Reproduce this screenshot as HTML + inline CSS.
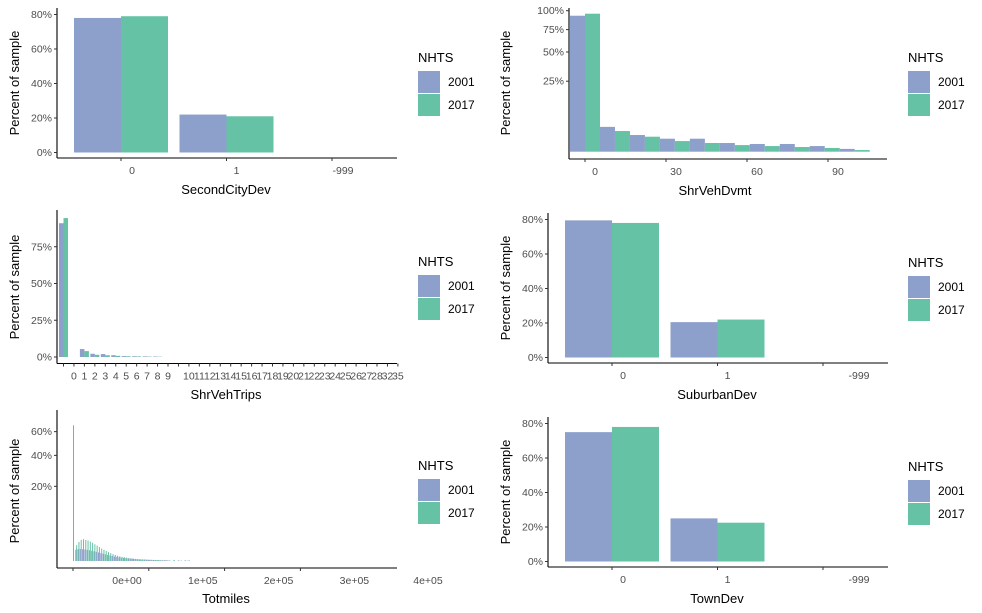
<!DOCTYPE html>
<html><head><meta charset="utf-8">
<style>
body{margin:0;background:#fff;}
svg{display:block;font-family:"Liberation Sans",Arial,sans-serif;}
.tk{font-size:10.5px;fill:#4d4d4d;}
.ti{font-size:13px;fill:#000;}
.lg{font-size:12px;fill:#000;}
</style></head>
<body>
<svg id="c" width="982" height="613" viewBox="0 0 982 613"></svg>
<script>
const C1 = "#8DA0CB", C2 = "#66C2A5";
// SecondCityDev
const secondCats = ["0","1","-999"];
const second2001 = [78, 22, 0];
const second2017 = [79, 21, 0];
// SuburbanDev
const suburbCats = ["0","1","-999"];
const suburb2001 = [79.5, 20.5, 0];
const suburb2017 = [78, 22, 0];
// TownDev
const townCats = ["0","1","-999"];
const town2001 = [75, 25, 0];
const town2017 = [78, 22.5, 0];
// ShrVehDvmt (bin centers)
const dvmtBins = [0, 11.1, 22.2, 33.3, 44.4, 55.5, 66.6, 77.7, 88.8, 99.9];
const dvmt2001 = [93, 3.1, 1.4, 0.85, 0.85, 0.38, 0.3, 0.3, 0.16, 0.04];
const dvmt2017 = [95.8, 2.15, 1.13, 0.57, 0.38, 0.22, 0.16, 0.11, 0.07, 0.014];
const dvmtTicks = [0, 30, 60, 90];
// ShrVehTrips (category index positions)
const tripIdx = [0, 2, 3, 4, 5, 6, 7, 8, 9];
const trips2001 = [91, 5.4, 2.2, 2.0, 1.2, 0.6, 0.5, 0.4, 0.3];
const trips2017 = [94.5, 4.0, 1.5, 1.2, 0.8, 0.5, 0.4, 0.3, 0.2];
const tripLabels = ["","0","1","2","3","4","5","6","7","8","9","","10","11","12","13","14","15","16","17","18","19","20","21","22","23","24","25","26","27","28","32","35"];
// Totmiles (bins of 3000 miles)
const totBinWidth = 3000;
const tot2001 = [66,0.45,0.5,0.52,0.5,0.48,0.45,0.42,0.38,0.34,0.3,0.26,0.22,0.19,0.16,0.13,0.11,0.09,0.07,0.06,0.05,0.04,0.035,0.03,0.025,0.02,0.018,0.015,0.012,0.01,0.009,0.008,0.007,0.006,0.005,0.004,0.004,0.003,0.003,0.002,0.002,0.002,0.001,0,0.001,0,0.001,0,0,0.001,0,0.001];
const tot2017 = [0,0.9,1.3,1.6,1.7,1.6,1.5,1.35,1.2,1.0,0.85,0.7,0.55,0.45,0.36,0.28,0.22,0.17,0.13,0.1,0.08,0.06,0.05,0.04,0.03,0.025,0.02,0.016,0.013,0.01,0.009,0.008,0.006,0.005,0.005,0.004,0.003,0.003,0.002,0.002,0.002,0.001,0.001,0,0.002,0,0.001,0.001,0,0.001,0.001,0];
const totTicks = [0, 100000, 200000, 300000];
const totTickLabels = ["0e+00","1e+05","2e+05","3e+05","4e+05"];

const NS = "http://www.w3.org/2000/svg";
const svg = document.getElementById("c");
function mk(tag, attrs, parent) {
  const e = document.createElementNS(NS, tag);
  for (const k in attrs) e.setAttribute(k, attrs[k]);
  (parent || svg).appendChild(e);
  return e;
}
function txt(x, y, s, cls, anchor, parent) {
  const t = mk("text", {x: x, y: y, class: cls, "text-anchor": anchor || "middle"}, parent);
  t.textContent = s;
  return t;
}
function axes(g, x0, x1, y0, y1) {
  const a = mk("line", {x1: x0, y1: y0, x2: x0, y2: y1, stroke: "#000", "stroke-width": 1.1}, g);
  
  
  const b = mk("line", {x1: x0, y1: y1, x2: x1, y2: y1, stroke: "#000", "stroke-width": 1.1}, g);
  
  
}
function ytick(g, x0, y, lab) {
  mk("line", {x1: x0 - 3, y1: y, x2: x0, y2: y, stroke: "#333"}, g);
  const t = txt(x0 - 5, y + 3.5, lab, "tk", "end", g);
  
  
}
function xtick(g, x, yAxis, lab, lx) {
  mk("line", {x1: x, y1: yAxis, x2: x, y2: yAxis + 3, stroke: "#333"}, g);
  if (lab !== "") {
    const t = txt(lx, yAxis + 16, lab, "tk", "middle", g);
    
    
  }
}
function titles(g, xt, xtx, xty, ytx, yty) {
  const t = txt(xtx, xty, xt, "ti", "middle", g);
  
  
  const y = mk("text", {x: 0, y: 0, class: "ti", "text-anchor": "middle", transform: "translate(" + ytx + "," + yty + ") rotate(-90)"}, g);
  y.textContent = "Percent of sample";
  
  
}
function legend(g, x, y) {
  const lg = mk("g", {}, g);
  
  
  txt(x, y + 4, "NHTS", "ti", "start", lg);
  const e1 = mk("g", {}, lg);
  
  
  mk("rect", {x: x, y: y + 13, width: 22, height: 22, fill: C1}, e1);
  txt(x + 30, y + 28, "2001", "lg", "start", e1);
  const e2 = mk("g", {}, lg);
  
  
  mk("rect", {x: x, y: y + 36, width: 22, height: 22, fill: C2}, e2);
  txt(x + 30, y + 51, "2017", "lg", "start", e2);
}
function bar(g, x, w, yTop, yBase, fill, name) {
  const r = mk("rect", {x: x, y: Math.min(yTop, yBase), width: w, height: Math.abs(yBase - yTop), fill: fill}, g);
  
  
}

// Categorical panels
function catPanel(name, ox, oy, cats, v1, v2, xtitle, legX, lblOffsets) {
  const g = mk("g", {});
  
  
  const x0 = ox, y1 = oy + 150, base = oy + 144.5, k = 1.725;
  const yS = p => base - p * k;
  const xC = i => ox + 64 + i * 105.5;
  for (let i = 0; i < cats.length; i++) {
    if (v1[i] > 0) bar(g, xC(i) - 47, 47, yS(v1[i]), base, C1, "bar-2001-" + cats[i]);
    if (v2[i] > 0) bar(g, xC(i), 47, yS(v2[i]), base, C2, "bar-2017-" + cats[i]);
  }
  axes(g, x0, x0 + 340, oy, y1);
  [0, 20, 40, 60, 80].forEach(p => ytick(g, x0, yS(p), p + "%"));
  for (let i = 0; i < cats.length; i++) xtick(g, xC(i), y1, cats[i], xC(i) + lblOffsets[i]);
  titles(g, xtitle, ox + 169, y1 + 36, ox - 38, oy + 75);
  legend(g, legX, oy + 50);
}
catPanel("panel-secondcitydev", 57, 8, secondCats, second2001, second2017, "SecondCityDev", 418, [11, 10, 11]);
catPanel("panel-suburbandev", 548, 213, suburbCats, suburb2001, suburb2017, "SuburbanDev", 908, [11, 10, 36]);
catPanel("panel-towndev", 548, 417, townCats, town2001, town2017, "TownDev", 908, [11, 10, 36]);

// ShrVehDvmt (sqrt y)
(function () {
  const g = mk("g", {});
  
  
  const ox = 569, base = 151.7, k = 14.1, y1 = 159;
  const yS = p => base - Math.sqrt(p) * k;
  const xS = v => 585 + v * 2.7;
  for (let i = 0; i < dvmtBins.length; i++) {
    bar(g, xS(dvmtBins[i]) - 15, 15, yS(dvmt2001[i]), base, C1, "bar-2001-bin" + i);
    bar(g, xS(dvmtBins[i]), 15, yS(dvmt2017[i]), base, C2, "bar-2017-bin" + i);
  }
  axes(g, ox, 887, 8, y1);
  [25, 50, 75, 100].forEach(p => ytick(g, ox, yS(p), p + "%"));
  dvmtTicks.forEach(v => xtick(g, xS(v), y1, String(v), xS(v) + 10));
  titles(g, "ShrVehDvmt", 715, 195, 510, 83);
  legend(g, 908, 58);
})();

// ShrVehTrips
(function () {
  const g = mk("g", {});
  
  
  const ox = 57, base = 357, k = 1.47, y1 = 363.5;
  const yS = p => base - p * k;
  const xI = i => 63.5 + i * 10.45;
  for (let j = 0; j < tripIdx.length; j++) {
    const w = 4.5;
    bar(g, xI(tripIdx[j]) - w, w, yS(trips2001[j]), base, C1, "bar-2001-trips" + tripIdx[j]);
    bar(g, xI(tripIdx[j]), w, yS(trips2017[j]), base, C2, "bar-2017-trips" + tripIdx[j]);
  }
  axes(g, ox, 397, 210, y1);
  [0, 25, 50, 75].forEach(p => ytick(g, ox, yS(p), p + "%"));
  tripLabels.forEach((s, i) => xtick(g, xI(i), y1, s, xI(i)));
  titles(g, "ShrVehTrips", 226, 399, 19, 287);
  legend(g, 418, 262);
})();

// Totmiles (sqrt y)
(function () {
  const g = mk("g", {});
  
  
  const ox = 57, base = 561, k = 16.7, y1 = 568;
  const yS = p => base - Math.sqrt(p) * k;
  const xS = v => 73 + v * 0.000758;
  for (let i = 0; i < tot2001.length; i++) {
    const x = xS(i * totBinWidth);
    if (tot2017[i] > 0) bar(g, x + 0.9, 1, yS(tot2017[i]), base, C2, "bar-2017-tot" + i);
    if (tot2001[i] > 0) bar(g, x, 1, yS(tot2001[i]), base, C1, "bar-2001-tot" + i);
  }
  axes(g, ox, 397, 410, y1);
  [20, 40, 60].forEach(p => ytick(g, ox, yS(p), p + "%"));
  totTicks.forEach((v, i) => xtick(g, xS(v), y1, totTickLabels[i], xS(v) + 54));
  const t = txt(428, y1 + 16, totTickLabels[4], "tk", "middle", g);
  
  
  titles(g, "Totmiles", 226, 603, 19, 491);
  legend(g, 418, 466);
})();
</script>
</body></html>
